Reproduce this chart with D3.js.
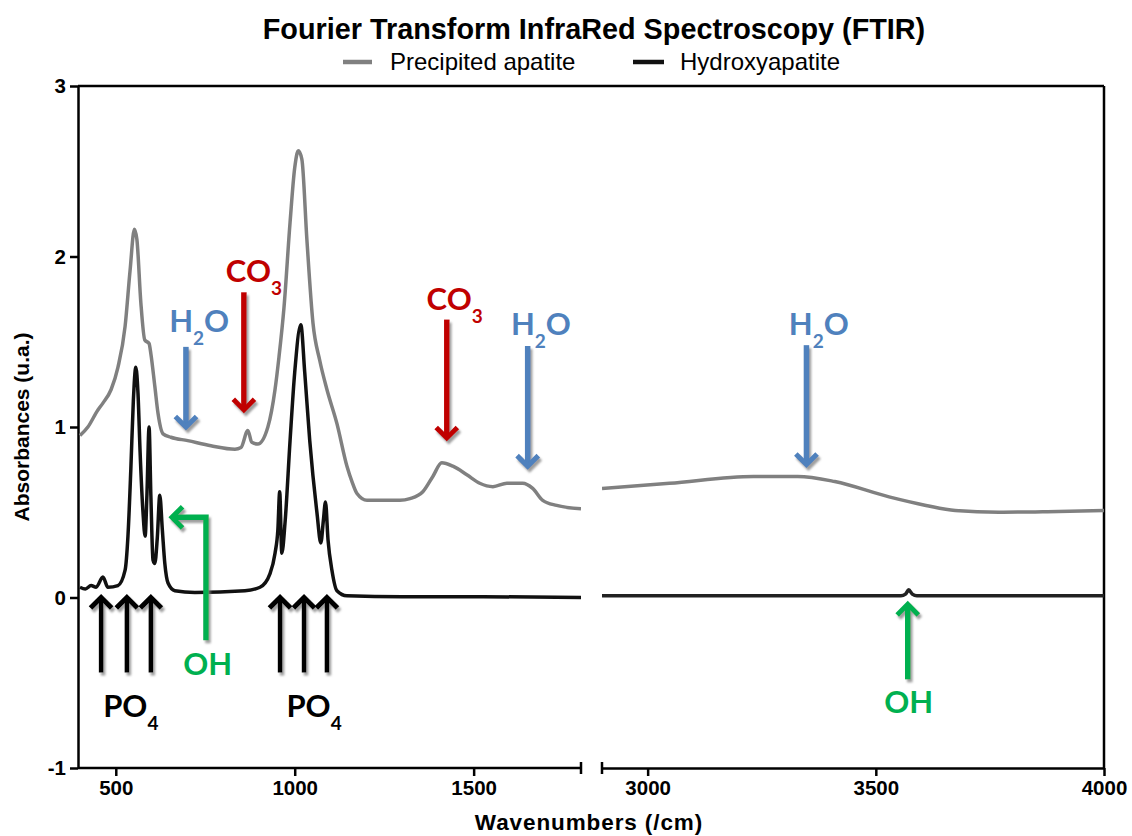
<!DOCTYPE html>
<html>
<head>
<meta charset="utf-8">
<script src="https://cdn.jsdelivr.net/npm/d3@7"></script>
<style>
  html, body { margin: 0; padding: 0; background: #fff; }
  svg { display: block; }
  text { font-family: "Liberation Sans", Arial, sans-serif; }
  .ann { font-family: Lato, "Open Sans", sans-serif; font-weight: 700; }
</style>
</head>
<body>
<svg id="chart" width="1132" height="836"></svg>
<script>
// ---------------- DATA ----------------
const chartTitle = "Fourier Transform InfraRed Spectroscopy (FTIR)";
const seriesNames = ["Precipited apatite", "Hydroxyapatite"];
const xLabel = "Wavenumbers (/cm)";
const yLabel = "Absorbances (u.a.)";

const lowDomain = [400, 1800];
const highDomain = [2900, 4000];
const yDomain = [-1, 3];
const lowTicks = [500, 1000, 1500];
const highTicks = [3000, 3500, 4000];
const yTicks = [-1, 0, 1, 2, 3];

// Precipitated apatite (grey), low wavenumber segment
const precipWnLow  = [400, 422, 450, 464, 487, 506, 526, 540, 552, 559, 570, 581, 593, 598, 609, 618, 632, 654, 701, 766, 833, 850, 869, 880, 897, 925, 945, 956, 970, 987, 1000, 1010, 1020, 1034, 1051, 1070, 1090, 1118, 1146, 1160, 1174, 1202, 1238, 1294, 1322, 1358, 1386, 1411, 1442, 1481, 1517, 1554, 1593, 1637, 1665, 1693, 1732, 1800];
const precipAbsLow = [0.95, 1.00, 1.10, 1.14, 1.22, 1.35, 1.59, 1.92, 2.16, 2.10, 1.73, 1.51, 1.49, 1.43, 1.24, 1.08, 0.96, 0.94, 0.92, 0.89, 0.87, 0.88, 0.98, 0.91, 0.90, 1.00, 1.22, 1.41, 1.70, 2.20, 2.52, 2.62, 2.57, 2.10, 1.61, 1.39, 1.22, 1.02, 0.77, 0.68, 0.61, 0.57, 0.57, 0.57, 0.58, 0.62, 0.71, 0.79, 0.77, 0.72, 0.67, 0.65, 0.67, 0.67, 0.64, 0.57, 0.54, 0.52];
// Precipitated apatite, high wavenumber segment
const precipWnHigh  = [2900, 3048, 3232, 3329, 3410, 3529, 3610, 3674, 3770, 3900, 4000];
const precipAbsHigh = [0.64, 0.67, 0.71, 0.71, 0.68, 0.59, 0.54, 0.51, 0.50, 0.505, 0.51];

// Hydroxyapatite (black), low wavenumber segment
const hydroxyWnLow  = [400, 415, 431, 445, 464, 478, 506, 526, 534, 542, 549, 556, 562, 568, 576, 582, 587, 593, 598, 604, 609, 616, 623, 630, 637, 646, 665, 721, 861, 903, 931, 945, 953, 958, 964, 973, 987, 1000, 1017, 1028, 1042, 1062, 1073, 1080, 1086, 1093, 1104, 1118, 1146, 1300, 1500, 1800];
const hydroxyAbsLow = [0.06, 0.05, 0.07, 0.06, 0.12, 0.06, 0.07, 0.16, 0.36, 0.75, 1.15, 1.35, 1.20, 0.85, 0.50, 0.36, 0.60, 1.00, 0.60, 0.22, 0.20, 0.35, 0.60, 0.40, 0.20, 0.085, 0.04, 0.03, 0.04, 0.06, 0.14, 0.26, 0.40, 0.62, 0.26, 0.44, 0.92, 1.32, 1.60, 1.32, 0.92, 0.50, 0.32, 0.45, 0.56, 0.34, 0.16, 0.04, 0.01, 0.005, 0.005, 0.0];
// Hydroxyapatite, high wavenumber segment
const hydroxyWnHigh  = [2900, 3100, 3300, 3500, 3555, 3565, 3572, 3580, 3590, 3700, 3900, 4000];
const hydroxyAbsHigh = [0.01, 0.01, 0.01, 0.01, 0.01, 0.02, 0.045, 0.02, 0.01, 0.01, 0.01, 0.01];

// Band annotations: arrows (wavenumber, absorbance points; last = tip) and labels
const arrowColor = { h2o: "#4F81BD", co3: "#C00000", oh: "#00B050", po4: "#000000" };
const annotationArrows = [
  { kind: "h2o", pts: [[696, 1.47], [696, 1.00]] },
  { kind: "co3", pts: [[858, 1.79], [858, 1.10]] },
  { kind: "co3", pts: [[1425, 1.63], [1425, 0.935]] },
  { kind: "h2o", pts: [[1651, 1.475], [1651, 0.77]] },
  { kind: "h2o", pts: [[3348, 1.48], [3348, 0.78]] },
  { kind: "oh",  pts: [[3570, -0.48], [3570, -0.04]] },
  { kind: "oh",  pts: [[752, -0.25], [752, 0.47], [657, 0.47]] },
  { kind: "po4", pts: [[459, -0.44], [459, 0.0]] },
  { kind: "po4", pts: [[531, -0.44], [531, 0.0]] },
  { kind: "po4", pts: [[598, -0.44], [598, 0.0]] },
  { kind: "po4", pts: [[959, -0.44], [959, 0.0]] },
  { kind: "po4", pts: [[1026, -0.44], [1026, 0.0]] },
  { kind: "po4", pts: [[1090, -0.44], [1090, 0.0]] }
];
// label parts: [text, isSubscript]
const annotationLabels = [
  { kind: "h2o", wn: 733,  y: 1.557, parts: [["H", 0], ["2", 1], ["O", 0]] },
  { kind: "co3", wn: 886,  y: 1.85,  parts: [["CO", 0], ["3", 1]] },
  { kind: "co3", wn: 1447, y: 1.686, parts: [["CO", 0], ["3", 1]] },
  { kind: "h2o", wn: 1688, y: 1.54,  parts: [["H", 0], ["2", 1], ["O", 0]] },
  { kind: "h2o", wn: 3375, y: 1.54,  parts: [["H", 0], ["2", 1], ["O", 0]] },
  { kind: "oh",  wn: 3572, y: -0.677, parts: [["OH", 0]] },
  { kind: "oh",  wn: 757,  y: -0.455, parts: [["OH", 0]] },
  { kind: "po4", wn: 542,  y: -0.70, parts: [["PO", 0], ["4", 1]] },
  { kind: "po4", wn: 1054, y: -0.70, parts: [["PO", 0], ["4", 1]] }
];

// ---------------- CHART ----------------
const svg = d3.select("#chart");
const xLow = d3.scaleLinear().domain(lowDomain).range([80, 581]);
const xHigh = d3.scaleLinear().domain(highDomain).range([602, 1104]);
const y = d3.scaleLinear().domain(yDomain).range([768, 86]);
const xAt = wn => wn <= 2000 ? xLow(wn) : xHigh(wn);
const fmt = d => String(d);

const defs = svg.append("defs");
const f = defs.append("filter").attr("id", "shadow").attr("x", "-50%").attr("y", "-50%").attr("width", "200%").attr("height", "200%");
f.append("feDropShadow").attr("dx", 2).attr("dy", 3).attr("stdDeviation", 1.2)
  .attr("flood-color", "#7f7f7f").attr("flood-opacity", 0.75);

// Title
svg.append("text").attr("x", 594).attr("y", 39).attr("text-anchor", "middle")
  .attr("font-size", 28.8).attr("font-weight", 700).text(chartTitle);

// Legend
const legend = [
  { name: seriesNames[0], color: "#808080", x1: 343, x2: 372, tx: 390 },
  { name: seriesNames[1], color: "#111111", x1: 633, x2: 664, tx: 680 }
];
legend.forEach(l => {
  svg.append("line").attr("x1", l.x1).attr("x2", l.x2).attr("y1", 62).attr("y2", 62)
    .attr("stroke", l.color).attr("stroke-width", 4.5);
  svg.append("text").attr("x", l.tx).attr("y", 70).attr("font-size", 24).text(l.name);
});

// Frame: top and right
svg.append("line").attr("x1", 78).attr("x2", 1104).attr("y1", y(3)).attr("y2", y(3))
  .attr("stroke", "#000").attr("stroke-width", 2.5);
svg.append("line").attr("x1", 1104).attr("x2", 1104).attr("y1", y(3)).attr("y2", y(-1))
  .attr("stroke", "#000").attr("stroke-width", 2.5);

// Y axis
const yAxis = svg.append("g").attr("transform", "translate(78,0)")
  .call(d3.axisLeft(y).tickValues(yTicks).tickFormat(fmt).tickSize(8).tickSizeOuter(0).tickPadding(4));
// X axes
const xAxisLow = svg.append("g").attr("transform", `translate(0,${y(-1)})`)
  .call(d3.axisBottom(xLow).tickValues(lowTicks).tickFormat(fmt).tickSize(8).tickSizeOuter(0).tickPadding(4));
const xAxisHigh = svg.append("g").attr("transform", `translate(0,${y(-1)})`)
  .call(d3.axisBottom(xHigh).tickValues(highTicks).tickFormat(fmt).tickSize(8).tickSizeOuter(0).tickPadding(4));
xAxisLow.select(".domain").attr("d", `M78,0H${xLow(1800)}`);
[yAxis, xAxisLow, xAxisHigh].forEach(g => {
  g.select(".domain").attr("stroke-width", 2.5);
  g.selectAll(".tick line").attr("stroke-width", 2.5);
  g.selectAll(".tick text").attr("font-size", 20.5).attr("font-weight", 700)
    .attr("font-family", "'Liberation Sans', Arial, sans-serif").attr("fill", "#000");
});
// break marks at segment ends
[xLow(1800), xHigh(2900)].forEach(px => {
  svg.append("line").attr("x1", px).attr("x2", px).attr("y1", y(-1) - 6).attr("y2", y(-1) + 6)
    .attr("stroke", "#000").attr("stroke-width", 2.5);
});

// Axis titles
svg.append("text").attr("x", 589).attr("y", 830).attr("text-anchor", "middle")
  .attr("font-size", 22.5).attr("font-weight", 700).attr("letter-spacing", 0.9).text(xLabel);
svg.append("text").attr("transform", `translate(29,${(y(3) + y(-1)) / 2}) rotate(-90)`)
  .attr("text-anchor", "middle").attr("font-size", 21).attr("font-weight", 700).text(yLabel);

// Curves
const clipLow = defs.append("clipPath").attr("id", "clipLow");
clipLow.append("rect").attr("x", 78).attr("y", y(3)).attr("width", xLow(1800) - 78).attr("height", y(-1) - y(3));
const clipHigh = defs.append("clipPath").attr("id", "clipHigh");
clipHigh.append("rect").attr("x", xHigh(2900)).attr("y", y(3)).attr("width", 1104 - xHigh(2900)).attr("height", y(-1) - y(3));

function drawSeries(wn, vals, xs, color, clip) {
  const pts = wn.map((w, i) => [w, vals[i]]);
  const line = d3.line().x(d => xs(d[0])).y(d => y(d[1])).curve(d3.curveMonotoneX);
  svg.append("path").datum(pts).attr("d", line).attr("fill", "none")
    .attr("stroke", color).attr("stroke-width", 3.5).attr("stroke-linejoin", "round")
    .attr("clip-path", `url(#${clip})`);
}
drawSeries(precipWnLow, precipAbsLow, xLow, "#808080", "clipLow");
drawSeries(precipWnHigh, precipAbsHigh, xHigh, "#808080", "clipHigh");
drawSeries(hydroxyWnLow, hydroxyAbsLow, xLow, "#111111", "clipLow");
drawSeries(hydroxyWnHigh, hydroxyAbsHigh, xHigh, "#222222", "clipHigh");

// Annotation arrows
const annG = svg.append("g").attr("filter", "url(#shadow)");
annotationArrows.forEach(a => {
  const p = a.pts.map(([w, v]) => [xAt(w), y(v)]);
  const col = arrowColor[a.kind];
  const sw = a.kind === "po4" ? 4.5 : 5.5;
  const n = p.length;
  const [tx, ty] = p[n - 1];
  const [px, py] = p[n - 2];
  const ang = Math.atan2(ty - py, tx - px);
  const L = 15;
  const a1 = ang + Math.PI - Math.PI / 4, a2 = ang + Math.PI + Math.PI / 4;
  annG.append("path")
    .attr("d", d3.line()(p.slice(0, n - 1).concat([[tx - Math.cos(ang) * 2, ty - Math.sin(ang) * 2]])))
    .attr("fill", "none").attr("stroke", col).attr("stroke-width", sw).attr("stroke-linejoin", "miter");
  annG.append("path")
    .attr("d", d3.line()([[tx + L * Math.cos(a1), ty + L * Math.sin(a1)], [tx, ty], [tx + L * Math.cos(a2), ty + L * Math.sin(a2)]]))
    .attr("fill", "none").attr("stroke", col).attr("stroke-width", 5).attr("stroke-linejoin", "miter");
});

// Annotation labels
annotationLabels.forEach(l => {
  const t = svg.append("text").attr("class", "ann").attr("x", xAt(l.wn)).attr("y", y(l.y))
    .attr("text-anchor", "middle").attr("fill", arrowColor[l.kind]).attr("font-size", 31);
  let sub = false;
  l.parts.forEach(([s, isSub]) => {
    const ts = t.append("tspan").text(s);
    if (isSub && !sub) { ts.attr("dy", 13).attr("font-size", 19); sub = true; }
    else if (!isSub && sub) { ts.attr("dy", -13).attr("font-size", 31); sub = false; }
  });
});
</script>
</body>
</html>
